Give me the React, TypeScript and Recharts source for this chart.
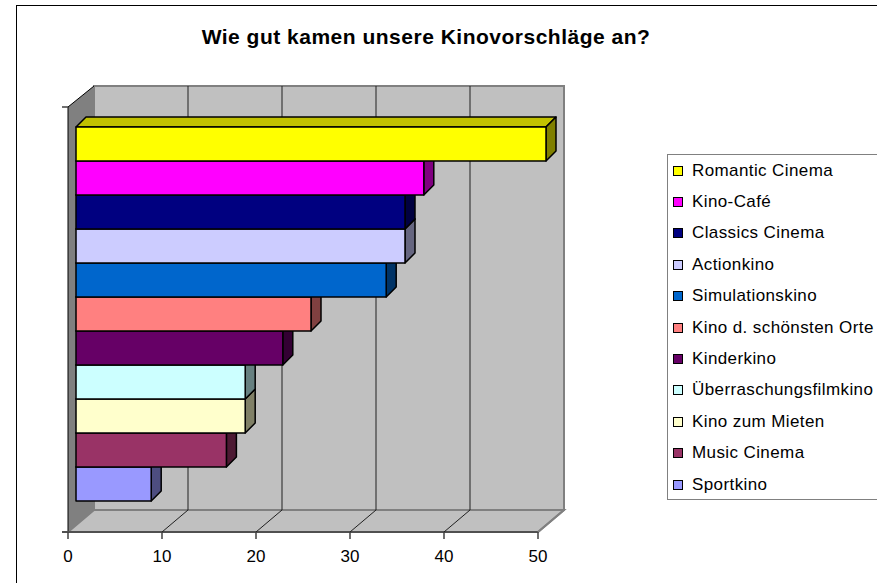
import React from 'react';
import { BarChart, Bar, XAxis, YAxis, CartesianGrid, Cell } from 'recharts';

const cinemas = [
  'Romantic Cinema',
  'Kino-Café',
  'Classics Cinema',
  'Actionkino',
  'Simulationskino',
  'Kino d. schönsten Orte',
  'Kinderkino',
  'Überraschungsfilmkino',
  'Kino zum Mieten',
  'Music Cinema',
  'Sportkino',
];
const votes = [50, 37, 35, 35, 33, 25, 22, 18, 18, 16, 8];
const colors = [
  '#FFFF00', '#FF00FF', '#000080', '#CCCCFF', '#0066CC', '#FF8080',
  '#660066', '#CCFFFF', '#FFFFCC', '#993366', '#9999FF',
];
const xTicks = [0, 10, 20, 30, 40, 50];

// bottom bar first: each bar drawn later covers the top face of the one below
const data = cinemas.map((name, i) => ({ name, value: votes[i], color: colors[i] })).reverse();

const FONT = '"Liberation Sans", Arial, sans-serif';
const BAR_D = 10; // depth of a bar
const BACK_DX = 18; // back wall vs bar front
const BACK_TOP = 41;
const BACK_BOTTOM = 9;
const FRONT_DX = -8; // front edge of floor vs bar front
const FRONT_BOTTOM = 31;
const FRONT_TOP = 20;

const shade = (hex: string, f: number) => {
  const n = parseInt(hex.slice(1), 16);
  const c = [(n >> 16) & 255, (n >> 8) & 255, n & 255].map((v) => Math.round(v * f));
  return `rgb(${c[0]},${c[1]},${c[2]})`;
};

const Bar3D = (p: any) => {
  const { x, y, width: w, height: h, fill } = p;
  const d = BAR_D;
  return (
    <g stroke="#000" strokeWidth={1.5} strokeLinejoin="round">
      <polygon
        points={`${x},${y} ${x + d},${y - d} ${x + w + d},${y - d} ${x + w},${y}`}
        fill={shade(fill, 0.76)}
      />
      <polygon
        points={`${x + w},${y} ${x + w + d},${y - d} ${x + w + d},${y + h - d} ${x + w},${y + h}`}
        fill={shade(fill, 0.5)}
      />
      <rect x={x} y={y} width={w} height={h} fill={fill} />
    </g>
  );
};

const WallLine = (p: any) => {
  const { x1, index, x, y, width, height, verticalPoints } = p;
  const last = (verticalPoints && verticalPoints.length - 1) ?? 5;
  const left = x;
  const right = x + width;
  const bTop = y - BACK_TOP;
  const bBot = y + height + BACK_BOTTOM;
  const fBot = y + height + FRONT_BOTTOM;
  const fTop = y - FRONT_TOP;
  return (
    <g key={`wall-${index}`}>
      {index === 0 && (
        <g>
          <rect x={left + BACK_DX} y={bTop} width={width} height={bBot - bTop} fill="#C0C0C0" stroke="#808080" strokeWidth={2} />
          <polygon
            points={`${left + FRONT_DX},${fBot} ${left + BACK_DX},${bBot} ${right + BACK_DX},${bBot} ${right + FRONT_DX},${fBot}`}
            fill="#C0C0C0"
            stroke="#808080"
            strokeWidth={2}
          />
          <polygon
            points={`${left + FRONT_DX},${fTop} ${left + BACK_DX},${bTop} ${left + BACK_DX},${bBot} ${left + FRONT_DX},${fBot}`}
            fill="#808080"
          />
          <line x1={left + FRONT_DX} y1={fTop} x2={left + BACK_DX} y2={bTop} stroke="#000" strokeWidth={1} />
          <line x1={left + FRONT_DX} y1={fTop} x2={left + FRONT_DX} y2={fBot} stroke="#000" strokeWidth={1} />
          <line x1={left + FRONT_DX - 6} y1={fTop} x2={left + FRONT_DX} y2={fTop} stroke="#404040" strokeWidth={1.5} />
          <line x1={left + FRONT_DX - 6} y1={fBot} x2={right + FRONT_DX} y2={fBot} stroke="#505050" strokeWidth={2} />
        </g>
      )}
      {index > 0 && index < last && (
        <line x1={x1 + BACK_DX} y1={bTop} x2={x1 + BACK_DX} y2={bBot} stroke="#202020" strokeWidth={1} />
      )}
      {index > 0 && (
        <line
          x1={x1 + FRONT_DX}
          y1={fBot}
          x2={x1 + BACK_DX}
          y2={bBot}
          stroke={index < last ? '#202020' : '#808080'}
          strokeWidth={index < last ? 1 : 2}
        />
      )}
    </g>
  );
};

const AxisTick = (p: any) => {
  const x = p.x + FRONT_DX;
  const y0 = p.y + FRONT_BOTTOM;
  return (
    <g>
      <line x1={x} y1={y0} x2={x} y2={y0 + 7} stroke="#404040" strokeWidth={1.5} />
      <text x={x} y={y0 + 30} textAnchor="middle" fontSize={17} fontFamily={FONT} fill="#000">
        {p.payload.value}
      </text>
    </g>
  );
};

const LegendBox = () => (
  <div
    style={{
      position: 'absolute',
      left: 667,
      top: 154,
      width: 230,
      height: 346,
      border: '1.5px solid #808080',
      boxSizing: 'border-box',
      background: '#fff',
      fontFamily: FONT,
      fontSize: 17,
      letterSpacing: 0.4,
      color: '#000',
    }}
  >
    {cinemas.map((name, i) => (
      <div key={name} style={{ display: 'flex', alignItems: 'center', height: 31.4, paddingLeft: 5 }}>
        <span
          style={{
            width: 8,
            height: 8,
            background: colors[i],
            border: '1px solid #000',
            marginRight: 9,
            flex: 'none',
          }}
        />
        <span style={{ whiteSpace: 'nowrap' }}>{name}</span>
      </div>
    ))}
  </div>
);

export default function App() {
  return (
    <div
      style={{
        position: 'absolute',
        left: 0,
        top: 0,
        width: 877,
        height: 583,
        overflow: 'hidden',
        background: '#fff',
      }}
    >
      <div
        style={{
          position: 'absolute',
          left: 16,
          top: 5,
          width: 900,
          height: 620,
          border: '1.5px solid #000',
          boxSizing: 'border-box',
        }}
      />
      <div
        style={{
          position: 'absolute',
          left: 0,
          width: 852,
          top: 25,
          textAlign: 'center',
          fontFamily: FONT,
          fontWeight: 'bold',
          fontSize: 21,
          letterSpacing: 0.5,
        }}
      >
        Wie gut kamen unsere Kinovorschläge an?
      </div>
      <BarChart
        width={877}
        height={583}
        data={data}
        layout="vertical"
        margin={{ top: 127, right: 331, bottom: 32, left: 76 }}
        barCategoryGap={0}
        barGap={0}
      >
        <CartesianGrid horizontal={false} vertical={WallLine} />
        <XAxis
          type="number"
          domain={[0, 50]}
          ticks={xTicks}
          interval={0}
          height={50}
          axisLine={false}
          tickLine={false}
          tickSize={0}
          tickMargin={0}
          tick={AxisTick}
        />
        <YAxis type="category" dataKey="name" reversed hide />
        <Bar dataKey="value" isAnimationActive={false} shape={Bar3D}>
          {data.map((d) => (
            <Cell key={d.name} fill={d.color} />
          ))}
        </Bar>
      </BarChart>
      <LegendBox />
    </div>
  );
}
